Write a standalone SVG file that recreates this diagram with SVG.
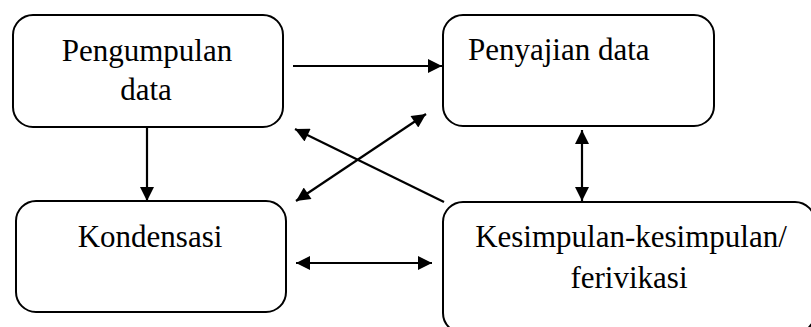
<svg xmlns="http://www.w3.org/2000/svg" width="811" height="327" viewBox="0 0 811 327">
  <style>
    .box { fill: #ffffff; stroke: #000000; stroke-width: 2; }
    .label { font-size: 31px; fill: #000000; }
    .mid { text-anchor: middle; }
    .link { stroke: #000000; stroke-width: 2.2; fill: none; }
    .one { marker-end: url(#head); }
    .two { marker-start: url(#head); marker-end: url(#head); }
  </style>
  <defs>
    <marker id="head" viewBox="0 0 10 10" refX="10" refY="5" markerUnits="userSpaceOnUse" markerWidth="16" markerHeight="14" orient="auto-start-reverse">
      <path d="M0,0 L10,5 L0,10 z" fill="#000000"/>
    </marker>
  </defs>
  <rect width="811" height="327" fill="#ffffff"/>

  <g font-family="Liberation Serif, Tinos, DejaVu Serif, serif">
  <g id="pengumpulan">
    <rect class="box" x="13" y="15" width="270" height="112" rx="20"/>
    <text class="label mid" x="147" y="61">Pengumpulan</text>
    <text class="label mid" x="146" y="100">data</text>
  </g>

  <g id="penyajian">
    <rect class="box" x="443" y="15" width="271" height="111" rx="20"/>
    <text class="label" x="468" y="60">Penyajian data</text>
  </g>

  <g id="kondensasi">
    <rect class="box" x="16" y="201" width="270" height="111" rx="20"/>
    <text class="label mid" x="150" y="247">Kondensasi</text>
  </g>

  <g id="kesimpulan">
    <rect class="box" x="443" y="202" width="372" height="131" rx="20"/>
    <text class="label mid" x="631" y="247">Kesimpulan-kesimpulan/</text>
    <text class="label mid" x="629" y="288">ferivikasi</text>
  </g>
  </g>

  <g id="connectors">
    <line class="link one" x1="293" y1="66" x2="442" y2="66"/>
    <line class="link one" x1="147" y1="127" x2="147" y2="201"/>
    <line class="link two" x1="582" y1="130" x2="582" y2="201"/>
    <line class="link one" x1="444" y1="202" x2="295" y2="129"/>
    <line class="link two" x1="296" y1="201" x2="426" y2="114"/>
    <line class="link two" x1="296" y1="263" x2="432" y2="263"/>
  </g>
</svg>
